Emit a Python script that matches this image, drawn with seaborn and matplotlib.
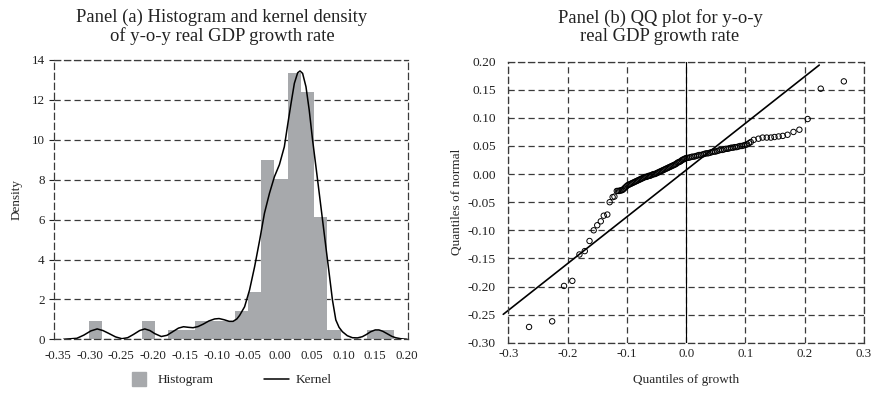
import numpy as np
import pandas as pd
import matplotlib
matplotlib.use("Agg")
import matplotlib.pyplot as plt
from matplotlib.lines import Line2D
import seaborn as sns

# ---------------- panel (a): histogram + kernel density ----------------
# histogram bars (density per bin, 23 equal bins)
hist_start = -0.3014
hist_binwidth = 0.0209
hist_density = [0.92, 0, 0, 0, 0.92, 0, 0.46, 0.46, 0.92, 0.92, 0.92, 1.42,
                2.39, 9.0, 8.05, 13.35, 12.4, 6.15, 0.46, 0, 0, 0.46, 0.46]

# kernel curve
kde_x = [-0.341, -0.320, -0.309, -0.298, -0.288, -0.279, -0.270, -0.259, -0.249,
         -0.240, -0.231, -0.221, -0.213, -0.205, -0.197, -0.187, -0.178, -0.168,
         -0.160, -0.152, -0.144, -0.137, -0.129, -0.121, -0.112, -0.103, -0.096,
         -0.088, -0.080, -0.074, -0.068, -0.0636, -0.0558, -0.048, -0.040, -0.032,
         -0.0245, -0.0166, -0.0088, -0.001, 0.0068, 0.012, 0.0174, 0.0226, 0.0278,
         0.0315, 0.0356, 0.0409, 0.046, 0.0513, 0.0566, 0.0618, 0.067, 0.0722,
         0.0774, 0.0826, 0.0879, 0.093, 0.0983, 0.106, 0.114, 0.122, 0.1296, 0.136,
         0.1428, 0.150, 0.1558, 0.162, 0.1688, 0.176, 0.182, 0.190, 0.200]
kde_y = [0.0, 0.05, 0.21, 0.42, 0.52, 0.44, 0.30, 0.12, 0.03,
         0.08, 0.24, 0.44, 0.52, 0.44, 0.28, 0.14, 0.20, 0.40,
         0.56, 0.63, 0.60, 0.58, 0.64, 0.76, 0.92, 1.02, 1.04,
         0.98, 0.90, 0.90, 1.02, 1.20, 1.63, 2.47, 3.64, 4.98,
         6.32, 7.32, 8.15, 8.75, 9.65, 10.74, 11.83, 12.83, 13.36,
         13.45, 13.33, 12.66, 11.49, 9.99, 8.65, 7.32, 5.98, 4.64,
         3.31, 1.97, 0.97, 0.60, 0.38, 0.18, 0.08, 0.07, 0.13, 0.24,
         0.38, 0.47, 0.47, 0.40, 0.28, 0.15, 0.08, 0.03, 0.0]

xticks_a = [-0.35, -0.30, -0.25, -0.20, -0.15, -0.10, -0.05, 0.00, 0.05, 0.10, 0.15, 0.20]
yticks_a = [0, 2, 4, 6, 8, 10, 12, 14]

# ---------------- panel (b): QQ plot ----------------
# lower tail
qq_low_x = [-0.265, -0.226, -0.206, -0.192, -0.180, -0.171, -0.163, -0.156,
            -0.150, -0.144, -0.139, -0.133, -0.129, -0.124, -0.121]
qq_low_y = [-0.272, -0.262, -0.199, -0.190, -0.143, -0.137, -0.119, -0.100,
            -0.091, -0.084, -0.074, -0.072, -0.050, -0.041, -0.040]
# dense middle band
qq_mid_x = [-0.117, -0.115, -0.113, -0.111, -0.109, -0.107, -0.105, -0.103,
            -0.101, -0.099, -0.097, -0.095, -0.093, -0.091, -0.089, -0.087,
            -0.085, -0.083, -0.081, -0.079, -0.077, -0.075, -0.073, -0.071,
            -0.069, -0.067, -0.065, -0.063, -0.061, -0.059, -0.057, -0.055,
            -0.053, -0.051, -0.049, -0.047, -0.045, -0.043, -0.041, -0.039,
            -0.037, -0.035, -0.033, -0.031, -0.029, -0.027, -0.025, -0.023,
            -0.021, -0.019, -0.017, -0.015, -0.013, -0.011, -0.009, -0.007,
            -0.005, -0.003, -0.001,
            0.001, 0.004, 0.007, 0.010, 0.013, 0.016, 0.019, 0.022, 0.025,
            0.028, 0.031, 0.034, 0.037, 0.040, 0.043, 0.046, 0.049, 0.052,
            0.055, 0.058, 0.061, 0.064, 0.067, 0.070, 0.073, 0.076, 0.079,
            0.082, 0.085, 0.088, 0.091, 0.094, 0.097, 0.100, 0.103, 0.106, 0.109]
qq_mid_y = [-0.030, -0.030, -0.030, -0.029, -0.029, -0.028, -0.026, -0.024,
            -0.022, -0.020, -0.019, -0.018, -0.017, -0.016, -0.015, -0.014,
            -0.013, -0.012, -0.011, -0.010, -0.009, -0.008, -0.007, -0.006,
            -0.005, -0.005, -0.004, -0.003, -0.003, -0.002, -0.001, 0.000,
            0.000, 0.001, 0.002, 0.003, 0.004, 0.005, 0.006, 0.007,
            0.008, 0.009, 0.010, 0.011, 0.012, 0.013, 0.014, 0.015,
            0.016, 0.017, 0.018, 0.020, 0.021, 0.022, 0.023, 0.025,
            0.026, 0.027, 0.028,
            0.029, 0.029, 0.030, 0.031, 0.031, 0.032, 0.033, 0.034, 0.034,
            0.035, 0.036, 0.037, 0.037, 0.038, 0.039, 0.040, 0.040, 0.041,
            0.042, 0.043, 0.043, 0.044, 0.045, 0.045, 0.046, 0.047, 0.047,
            0.048, 0.048, 0.049, 0.050, 0.050, 0.051, 0.052, 0.053, 0.055, 0.057]
# upper tail
qq_high_x = [0.114, 0.122, 0.129, 0.136, 0.143, 0.149, 0.156, 0.163, 0.171,
             0.181, 0.191, 0.205, 0.227, 0.266]
qq_high_y = [0.061, 0.063, 0.065, 0.065, 0.065, 0.066, 0.067, 0.068, 0.070,
             0.075, 0.079, 0.098, 0.152, 0.165]

qq_line_x = [-0.3085, 0.2245]
qq_line_y = [-0.2495, 0.194]

xticks_b = [-0.3, -0.2, -0.1, 0.0, 0.1, 0.2, 0.3]
yticks_b = [-0.30, -0.25, -0.20, -0.15, -0.10, -0.05, 0.00, 0.05, 0.10, 0.15, 0.20]

# ---------------- style ----------------
sns.set_theme(style="white")
plt.rcParams['font.family'] = ['Liberation Serif', 'DejaVu Serif']
plt.rcParams['axes.unicode_minus'] = False
plt.rcParams['text.color'] = '#222222'
plt.rcParams['xtick.color'] = '#222222'
plt.rcParams['ytick.color'] = '#222222'

dash = (0, (5, 3))
grid_kw = dict(color='#3a3a3a', linestyle=dash, linewidth=0.9)
bar_color = '#a7a9ac'

W, H = 874, 395
fig = plt.figure(figsize=(W / 100, H / 100), dpi=100)
ax1 = fig.add_axes([54 / W, 1 - 339.3 / H, (408 - 54) / W, (339.3 - 60) / H])
ax2 = fig.add_axes([508.3 / W, 1 - 342.7 / H, (864 - 508.3) / W, (342.7 - 61.7) / H])

# ---- panel (a) ----
n_bins = len(hist_density)
hist_df = pd.DataFrame({
    'growth': hist_start + hist_binwidth * (np.arange(n_bins) + 0.5),
    'density': hist_density,
})
sns.histplot(data=hist_df, x='growth', weights='density', bins=n_bins,
             binrange=(hist_start, hist_start + n_bins * hist_binwidth),
             stat='count', color=bar_color, alpha=1, linewidth=0, ax=ax1)
kde_df = pd.DataFrame({'growth': kde_x, 'density': kde_y})
sns.lineplot(data=kde_df, x='growth', y='density', color='black',
             linewidth=1.1, ax=ax1)

ax1.set_xlim(-0.356, 0.2016)
ax1.set_ylim(0, 14)
ax1.set_xticks(xticks_a)
ax1.set_xticklabels([f"{v:.2f}" for v in xticks_a])
ax1.set_yticks(yticks_a)
ax1.set_yticklabels([str(v) for v in yticks_a])
ax1.yaxis.grid(True, **grid_kw)
ax1.xaxis.grid(False)
ax1.set_axisbelow(True)
for sp in ax1.spines.values():
    sp.set_visible(True)
    sp.set_linestyle(dash)
    sp.set_linewidth(0.9)
    sp.set_color('#3a3a3a')
ax1.tick_params(axis='y', direction='out', length=3.6, width=0.8, pad=3.2,
                labelsize=9.4, left=True)
ax1.tick_params(axis='x', length=0, pad=7.5, labelsize=9.3)
ax1.set_xlabel('')
ax1.set_ylabel('Density', fontsize=9.5)
ax1.yaxis.set_label_coords(-0.090, 0.5)

fig.text(222 / W, 1 - 9 / H,
         "Panel (a) Histogram and kernel density\nof y-o-y real GDP growth rate",
         ha='center', va='top', fontsize=13.4, linespacing=1.08)

handles = [Line2D([], [], marker='s', markersize=9.5, color=bar_color, linestyle='None'),
           Line2D([], [], color='black', linewidth=1.1)]
fig.legend(handles, ['Histogram', 'Kernel'], loc='center',
           bbox_to_anchor=(229 / W, 1 - 380 / H), ncol=2, frameon=False,
           fontsize=9.5, handlelength=1.9, handletextpad=0.5, columnspacing=3.8)

# ---- panel (b) ----
qq_df = pd.DataFrame({'growth_q': qq_low_x + qq_mid_x + qq_high_x,
                      'normal_q': qq_low_y + qq_mid_y + qq_high_y})
sns.scatterplot(data=qq_df, x='growth_q', y='normal_q', s=15, facecolor='none',
                edgecolor='black', linewidth=0.7, ax=ax2, zorder=3)
line_df = pd.DataFrame({'x': qq_line_x, 'y': qq_line_y})
sns.lineplot(data=line_df, x='x', y='y', color='black', linewidth=1.2, ax=ax2)
ax2.lines[-1].set_clip_on(False)
ax2.axvline(0, color='black', linewidth=0.8, zorder=2)

ax2.set_xlim(-0.3, 0.3)
ax2.set_ylim(-0.30, 0.20)
ax2.set_xticks(xticks_b)
ax2.set_xticklabels([f"{v:.1f}" for v in xticks_b])
ax2.set_yticks(yticks_b)
ax2.set_yticklabels([f"{v:.2f}" for v in yticks_b])
ax2.grid(True, **grid_kw)
ax2.set_axisbelow(True)
for sp in ax2.spines.values():
    sp.set_visible(True)
    sp.set_linestyle(dash)
    sp.set_linewidth(0.9)
    sp.set_color('#3a3a3a')
ax2.tick_params(axis='both', length=0, labelsize=9.3)
ax2.tick_params(axis='y', pad=9.0, labelsize=9.7)
ax2.tick_params(axis='x', pad=3.5)
ax2.set_xlabel('Quantiles of growth', fontsize=9.5)
ax2.set_ylabel('Quantiles of normal', fontsize=9.5)
ax2.xaxis.set_label_coords(0.5, -0.111)
ax2.yaxis.set_label_coords(-0.127, 0.5)

fig.text(660 / W, 1 - 9 / H,
         "Panel (b) QQ plot for y-o-y\nreal GDP growth rate",
         ha='center', va='top', fontsize=13.4, linespacing=1.08)

fig.savefig('out.png', dpi=100)
